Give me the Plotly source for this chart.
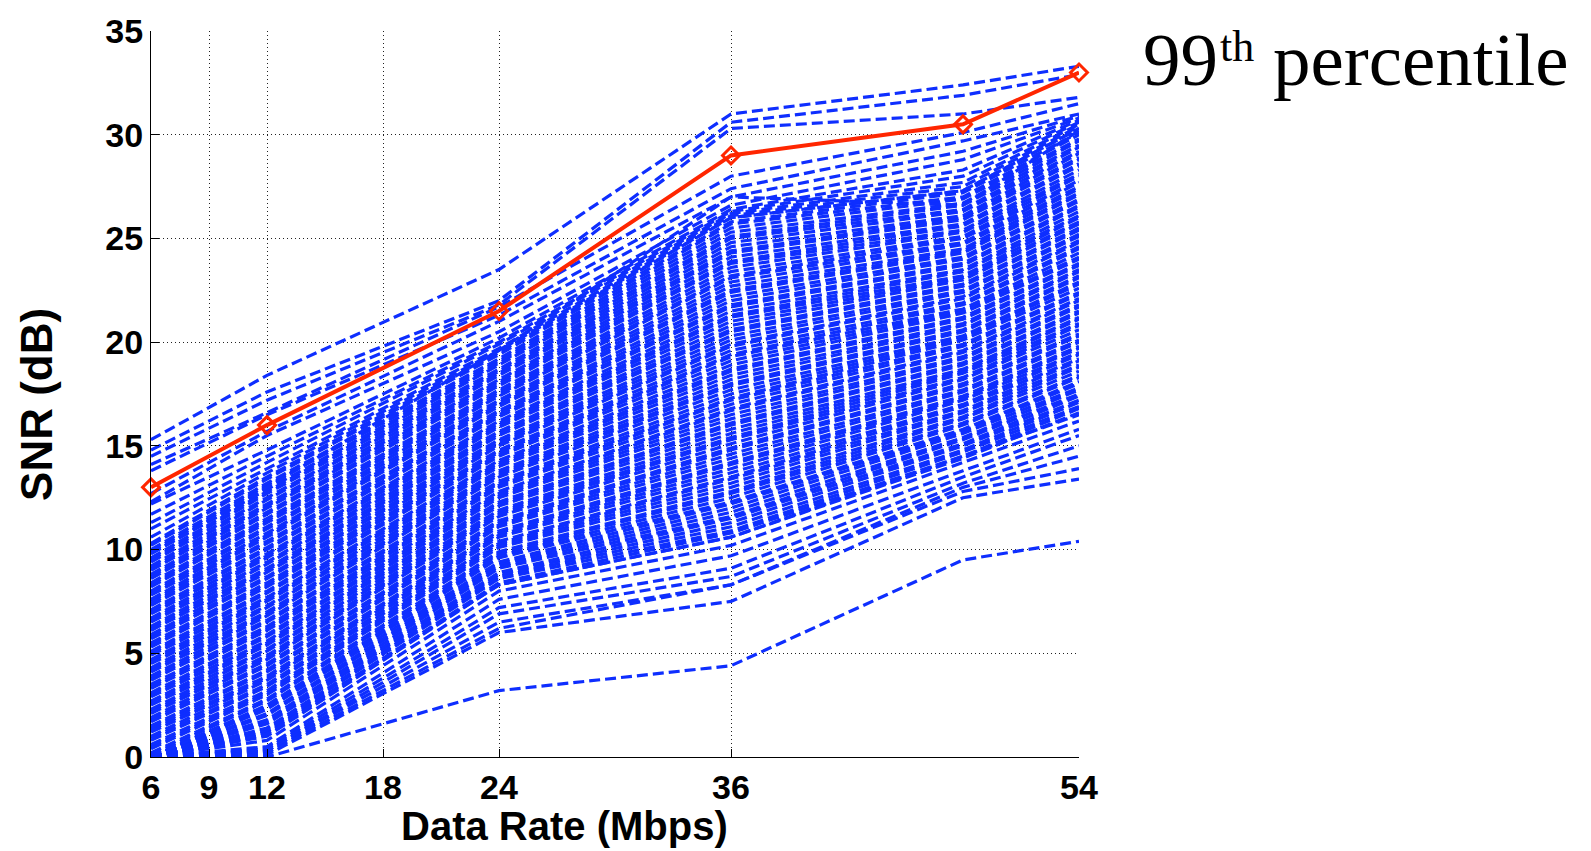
import plotly.graph_objects as go

# ---------------- data ----------------
rates = [6, 12, 24, 36, 48, 54]                 # Mbps, knees of every curve
x_ticks = [6, 9, 12, 18, 24, 36, 54]
y_ticks = [0, 5, 10, 15, 20, 25, 30, 35]

percentile_99 = [13.0, 16.0, 21.5, 29.0, 30.5, 33.0]

# sparse curves above the dense band (SNR dB at each rate)
top_links = [
    [15.3, 18.4, 23.5, 31.0, 32.4, 33.3],
    [14.8, 17.6, 22.0, 30.6, 31.9, 32.9],
    [14.5, 17.2, 21.8, 30.3, 31.0, 31.8],
    [14.1, 16.6, 21.7, 28.0, 30.1, 31.5],
    [13.8, 16.5, 21.3, 27.4, 29.7, 31.0],
    [12.7, 15.7, 21.0, 27.0, 29.2, 30.9],
    [12.3, 15.5, 20.5, 26.6, 28.8, 30.8],
    [12.2, 14.8, 20.2, 26.4, 28.3, 30.7],
    [11.7, 14.5, 20.0, 26.3, 28.0, 30.6],
    [11.3, 14.2, 19.9, 26.2, 27.7, 30.5],
    [11.0, 13.9, 19.7, 26.1, 27.5, 30.4],
    [10.6, 13.7, 19.6, 26.0, 27.3, 30.3],
    [9.8, 13.0, 19.6, 27.0, 26.6, 30.2],
]

# dense band of curves
band_links = [
    [0.0, 1.0, 8.3, 10.6, 14.4, 16.6],
    [0.0, 1.1, 8.4, 10.8, 14.5, 16.8],
    [0.0, 1.3, 8.6, 10.9, 14.7, 16.9],
    [0.0, 1.4, 8.7, 11.1, 14.8, 17.1],
    [0.0, 1.6, 8.8, 11.3, 15.0, 17.2],
    [0.0, 1.7, 8.9, 11.5, 15.1, 17.4],
    [0.0, 1.8, 9.1, 11.6, 15.3, 17.5],
    [0.0, 2.0, 9.2, 11.8, 15.4, 17.7],
    [0.0, 2.1, 9.3, 12.0, 15.6, 17.8],
    [0.0, 2.3, 9.4, 12.2, 15.7, 18.0],
    [0.0, 2.4, 9.6, 12.3, 15.8, 18.1],
    [0.0, 2.5, 9.7, 12.5, 16.0, 18.3],
    [0.1, 2.7, 9.8, 12.7, 16.1, 18.4],
    [0.2, 2.8, 9.9, 12.8, 16.3, 18.6],
    [0.4, 3.0, 10.1, 13.0, 16.4, 18.8],
    [0.5, 3.1, 10.2, 13.2, 16.6, 18.9],
    [0.6, 3.2, 10.3, 13.4, 16.7, 19.1],
    [0.8, 3.4, 10.4, 13.5, 16.9, 19.2],
    [0.9, 3.5, 10.6, 13.7, 17.0, 19.4],
    [1.0, 3.7, 10.7, 13.9, 17.2, 19.5],
    [1.2, 3.8, 10.8, 14.1, 17.3, 19.7],
    [1.3, 3.9, 10.9, 14.2, 17.4, 19.8],
    [1.4, 4.1, 11.1, 14.4, 17.6, 20.0],
    [1.5, 4.2, 11.2, 14.6, 17.7, 20.1],
    [1.7, 4.4, 11.3, 14.8, 17.9, 20.3],
    [1.8, 4.5, 11.4, 14.9, 18.0, 20.4],
    [1.9, 4.7, 11.6, 15.1, 18.2, 20.6],
    [2.1, 4.8, 11.7, 15.3, 18.3, 20.8],
    [2.2, 4.9, 11.8, 15.4, 18.5, 20.9],
    [2.3, 5.1, 11.9, 15.6, 18.6, 21.1],
    [2.5, 5.2, 12.1, 15.8, 18.7, 21.2],
    [2.6, 5.4, 12.2, 16.0, 18.9, 21.4],
    [2.7, 5.5, 12.3, 16.1, 19.0, 21.5],
    [2.9, 5.6, 12.5, 16.3, 19.2, 21.7],
    [3.0, 5.8, 12.6, 16.5, 19.3, 21.8],
    [3.1, 5.9, 12.7, 16.7, 19.5, 22.0],
    [3.3, 6.1, 12.8, 16.8, 19.6, 22.1],
    [3.4, 6.2, 13.0, 17.0, 19.8, 22.3],
    [3.5, 6.3, 13.1, 17.2, 19.9, 22.4],
    [3.7, 6.5, 13.2, 17.3, 20.1, 22.6],
    [3.8, 6.6, 13.3, 17.5, 20.2, 22.8],
    [3.9, 6.8, 13.5, 17.7, 20.3, 22.9],
    [4.1, 6.9, 13.6, 17.9, 20.5, 23.1],
    [4.2, 7.0, 13.7, 18.0, 20.6, 23.2],
    [4.3, 7.2, 13.8, 18.2, 20.8, 23.4],
    [4.5, 7.3, 14.0, 18.4, 20.9, 23.5],
    [4.6, 7.5, 14.1, 18.6, 21.1, 23.7],
    [4.7, 7.6, 14.2, 18.7, 21.2, 23.8],
    [4.9, 7.7, 14.3, 18.9, 21.4, 24.0],
    [5.0, 7.9, 14.5, 19.1, 21.5, 24.1],
    [5.1, 8.0, 14.6, 19.3, 21.6, 24.3],
    [5.3, 8.2, 14.7, 19.4, 21.8, 24.5],
    [5.4, 8.3, 14.8, 19.6, 21.9, 24.6],
    [5.5, 8.4, 15.0, 19.8, 22.1, 24.8],
    [5.7, 8.6, 15.1, 19.9, 22.2, 24.9],
    [5.8, 8.7, 15.2, 20.1, 22.4, 25.1],
    [5.9, 8.9, 15.3, 20.3, 22.5, 25.2],
    [6.1, 9.0, 15.5, 20.5, 22.7, 25.4],
    [6.2, 9.1, 15.6, 20.6, 22.8, 25.5],
    [6.3, 9.3, 15.7, 20.8, 23.0, 25.7],
    [6.5, 9.4, 15.9, 21.0, 23.1, 25.8],
    [6.6, 9.6, 16.0, 21.2, 23.2, 26.0],
    [6.7, 9.7, 16.1, 21.3, 23.4, 26.1],
    [6.9, 9.8, 16.2, 21.5, 23.5, 26.3],
    [7.0, 10.0, 16.4, 21.7, 23.7, 26.5],
    [7.1, 10.1, 16.5, 21.8, 23.8, 26.6],
    [7.3, 10.3, 16.6, 22.0, 24.0, 26.8],
    [7.4, 10.4, 16.7, 22.2, 24.1, 26.9],
    [7.5, 10.6, 16.9, 22.4, 24.3, 27.1],
    [7.6, 10.7, 17.0, 22.5, 24.4, 27.2],
    [7.8, 10.8, 17.1, 22.7, 24.5, 27.4],
    [7.9, 11.0, 17.2, 22.9, 24.7, 27.5],
    [8.0, 11.1, 17.4, 23.1, 24.8, 27.7],
    [8.2, 11.3, 17.5, 23.2, 25.0, 27.8],
    [8.3, 11.4, 17.6, 23.4, 25.1, 28.0],
    [8.4, 11.5, 17.7, 23.6, 25.3, 28.1],
    [8.6, 11.7, 17.9, 23.8, 25.4, 28.3],
    [8.7, 11.8, 18.0, 23.9, 25.6, 28.5],
    [8.8, 12.0, 18.1, 24.1, 25.7, 28.6],
    [9.0, 12.1, 18.2, 24.3, 25.9, 28.8],
    [9.1, 12.2, 18.4, 24.4, 26.0, 28.9],
    [9.2, 12.4, 18.5, 24.6, 26.1, 29.1],
    [9.4, 12.5, 18.6, 24.8, 26.3, 29.2],
    [9.5, 12.7, 18.7, 25.0, 26.4, 29.4],
    [9.6, 12.8, 18.9, 25.1, 26.6, 29.5],
    [9.8, 12.9, 19.0, 25.3, 26.7, 29.7],
    [9.9, 13.1, 19.1, 25.5, 26.9, 29.8],
    [10.0, 13.2, 19.2, 25.7, 27.0, 30.0],
    [10.2, 13.4, 19.4, 25.8, 27.2, 30.1],
    [10.3, 13.5, 19.5, 26.0, 27.3, 30.3],
]

# sparse curves below the dense band
bottom_links = [
    [0.0, 0.0, 3.2, 4.4, 9.5, 10.4],
    [0.0, 0.1, 6.0, 7.5, 12.5, 13.4],
    [0.0, 0.2, 6.2, 8.3, 12.8, 13.9],
    [0.0, 0.3, 6.5, 8.3, 13.0, 14.5],
    [0.0, 0.3, 6.9, 8.7, 13.2, 15.0],
    [0.0, 0.4, 7.2, 9.1, 13.5, 15.5],
    [0.0, 0.5, 7.6, 9.7, 13.8, 15.8],
    [0.0, 0.8, 8.0, 10.2, 14.2, 16.2],
    [0.0, 1.2, 8.3, 10.6, 14.5, 16.5],
]

BLUE = "rgb(14,46,255)"
RED = "rgb(255,38,0)"

fig = go.Figure()
for row in bottom_links + band_links + top_links:
    fig.add_trace(go.Scatter(
        x=rates, y=row, mode="lines",
        line=dict(color=BLUE, width=3.2, dash="11px,5px"),
        showlegend=False, hoverinfo="skip"))

fig.add_trace(go.Scatter(
    x=rates, y=percentile_99, mode="lines+markers",
    line=dict(color=RED, width=4),
    marker=dict(symbol="diamond-open", size=13, color=RED, line=dict(width=3, color=RED)),
    cliponaxis=False, showlegend=False))

tickfont = dict(family="Arial, Liberation Sans, sans-serif", size=34, color="black", weight="bold")
axis_common = dict(
    showline=True, linecolor="black", linewidth=1.2,
    ticks="inside", ticklen=8, tickwidth=1, tickcolor="black",
    showgrid=True, gridcolor="#222", gridwidth=1, griddash="1px,3px",
    zeroline=False, tickfont=tickfont,
)

fig.update_layout(
    width=1591, height=851,
    margin=dict(l=151, r=512, t=23, b=94),
    paper_bgcolor="white", plot_bgcolor="white",
    xaxis=dict(range=[6, 54], tickmode="array", tickvals=x_ticks,
               ticktext=[str(v) for v in x_ticks], **axis_common),
    yaxis=dict(range=[0, 35], tickmode="array", tickvals=y_ticks,
               ticktext=[str(v) for v in y_ticks], **axis_common),
)

xtitle_font = dict(family="Arial, Liberation Sans, sans-serif", size=40, color="black", weight="bold")
ytitle_font = dict(family="Arial, Liberation Sans, sans-serif", size=44, color="black", weight="bold")
serif = dict(family="Times New Roman, Liberation Serif, serif", size=75, color="black")
fig.add_annotation(text="Data Rate (Mbps)", xref="paper", yref="paper",
                   x=0.4458, y=-0.095, xanchor="center", yanchor="middle",
                   showarrow=False, font=xtitle_font)
fig.add_annotation(text="SNR (dB)", xref="paper", yref="paper", textangle=-90,
                   x=-0.1228, y=0.485, xanchor="center", yanchor="middle",
                   showarrow=False, font=ytitle_font)
fig.add_annotation(text="99", xref="paper", yref="paper",
                   x=1.067, y=0.961, xanchor="left", yanchor="middle",
                   showarrow=False, font=serif)
fig.add_annotation(text="th", xref="paper", yref="paper",
                   x=1.150, y=0.978, xanchor="left", yanchor="middle",
                   showarrow=False, font=dict(serif, size=44))
fig.add_annotation(text="percentile", xref="paper", yref="paper",
                   x=1.207, y=0.961, xanchor="left", yanchor="middle",
                   showarrow=False, font=serif)

fig.write_html("out.html")
